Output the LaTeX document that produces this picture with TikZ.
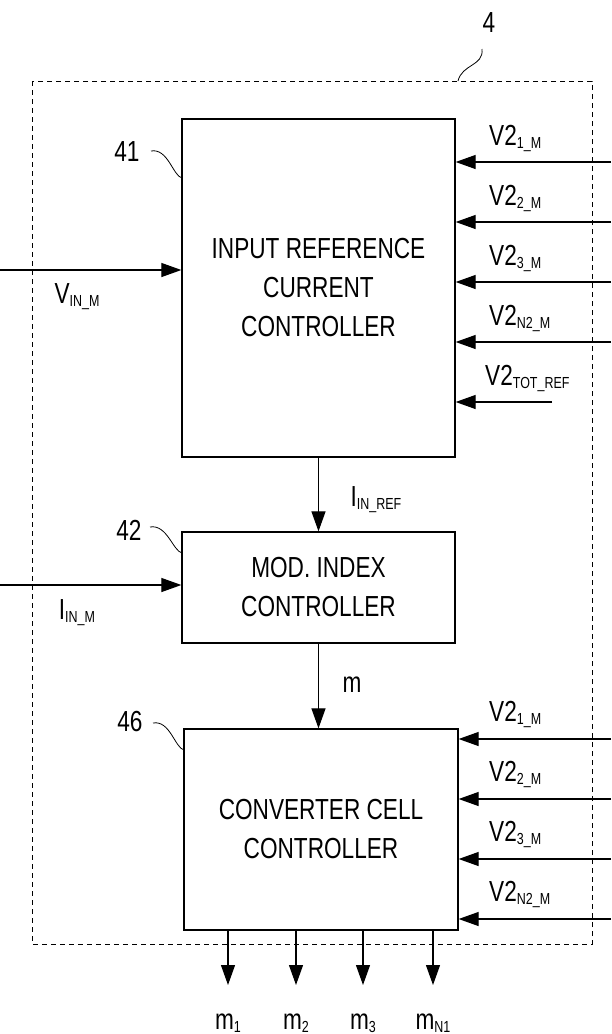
\documentclass[tikz,border=0pt]{standalone}
\usepackage{fontspec}
\setmainfont[FakeStretch=0.78]{Liberation Sans}
\usetikzlibrary{arrows.meta,positioning}
\newcommand\subtxt[1]{\raisebox{-3pt}{\fontsize{16}{16}\selectfont #1}}
\tikzset{
	block/.style={draw, line width=1.3pt, align=center, inner sep=0pt, font=\fontsize{29}{39}\selectfont},
	arrow/.style={-{Triangle[length=20pt,width=14pt]}, line width=1.2pt},
	frame/.style={draw, dash pattern=on 5pt off 4pt, line width=0.9pt},
	lbl/.style={font=\fontsize{29}{29}\selectfont, inner sep=0pt},
	leader/.style={line width=0.8pt}
}
\begin{document}
\begin{tikzpicture}[x=1pt, y=-1pt]
	\useasboundingbox (0,0) rectangle (611,1034);
	\draw[frame] (32,81) rectangle (592,944);
	
	\node[block, minimum width=273pt, minimum height=338pt] (ctrl) at (318.5,288) {INPUT REFERENCE\\CURRENT\\CONTROLLER};
	\node[block, minimum width=273pt, minimum height=111pt] (modidx) at (318.5,587.5) {MOD. INDEX\\CONTROLLER};
	\node[block, minimum width=274pt, minimum height=201pt] (conv) at (321,829.5) {CONVERTER CELL\\CONTROLLER};
	
	% reference numerals
	\node[lbl] (n4) at (489,23) {4};
	\node[lbl] (n41) at (127,152) {41};
	\node[lbl] (n42) at (129,530) {42};
	\node[lbl] (n46) at (130,722) {46};
	\draw[leader] (482,49) .. controls (484,66) and (462,64) .. (458,81);
	\draw[leader] (151,151) .. controls (168,148) and (173,176) .. (182,178);
	\draw[leader] (150,527) .. controls (167,524) and (173,551) .. (182,553);
	\draw[leader] (153,723) .. controls (170,720) and (175,748) .. (184,750);
	
	% measured inputs on the left
	\coordinate (vin) at (0,270);
	\coordinate (iin) at (0,585);
	\draw[arrow] (vin) -- (vin -| ctrl.west);
	\draw[arrow] (iin) -- (iin -| modidx.west);
	\node[lbl] (vinlbl) at (77,297) {V\subtxt{IN\_M}};
	\node[lbl] (iinlbl) at (77,613) {I\subtxt{IN\_M}};
	
	% internal signals
	\draw[arrow] (ctrl.south) -- (modidx.north);
	\draw[arrow] (modidx.south) -- (modidx.south |- conv.north);
	\node[lbl] (irefl) at (376,500) {I\subtxt{IN\_REF}};
	\node[lbl] (ml) at (352,685) {m};
	
	% cell voltages
	\foreach \yy/\sb in {162/1\_M, 222/2\_M, 282/3\_M, 342/N2\_M}{
		\coordinate (r) at (611,\yy);
		\draw[arrow] (r) -- (r -| ctrl.east);
		\node[lbl, anchor=west] at (489,\yy-24) {V2\subtxt{\sb}};
	}
	\coordinate (vtot) at (552,402);
	\draw[arrow] (vtot) -- (vtot -| ctrl.east);
	\node[lbl, anchor=west] (vtotl) at (485,378) {V2\subtxt{TOT\_REF}};
	
	\foreach \yy/\sb in {739/1\_M, 799/2\_M, 859/3\_M, 919/N2\_M}{
		\coordinate (r) at (611,\yy);
		\draw[arrow] (r) -- (r -| conv.east);
		\node[lbl, anchor=west] at (489,\yy-25) {V2\subtxt{\sb}};
	}
	
	% modulation outputs
	\foreach \xx/\sb in {228/1, 296/2, 363/3, 433/N1}{
		\coordinate (o) at (\xx,985);
		\draw[arrow] (o |- conv.south) -- (o);
		\node[lbl] at (\xx,1023) {m\subtxt{\sb}};
	}
\end{tikzpicture}
\end{document}
